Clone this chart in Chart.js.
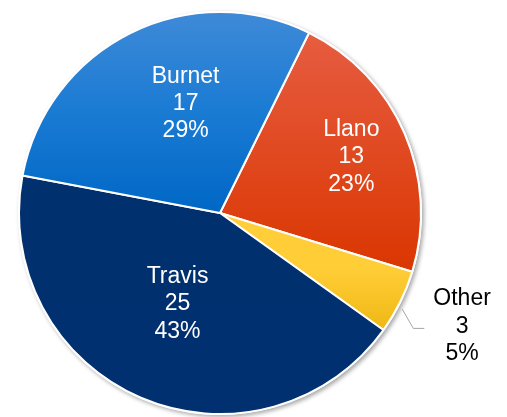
<!DOCTYPE html>
<html>
<head>
<meta charset="utf-8">
<script src="https://cdn.jsdelivr.net/npm/chart.js@4.4.1/dist/chart.umd.min.js"></script>
<style>
  html, body { margin: 0; padding: 0; background: #ffffff; }
  #wrap { width: 507px; height: 417px; position: relative; }
</style>
</head>
<body>
<div id="wrap"><canvas id="c"></canvas></div>
<script>
const categories = ['Llano', 'Other', 'Travis', 'Burnet'];
const values = [13, 3, 25, 17];
const percentLabels = ['23%', '5%', '43%', '29%'];

const gradientStops = [
  [[0, '#e8623f'], [0.12, '#e5583a'], [0.65, '#da3600'], [1, '#d43000']],
  [[0, '#ffd242'], [0.64, '#ffcd36'], [0.80, '#edb612'], [1, '#e0a800']],
  [[0, '#03306f'], [1, '#00306f']],
  [[0, '#3f8ad8'], [0.25, '#1a7bd3'], [0.5, '#0067c6'], [1, '#0058b5']]
];

function sliceColor(ctx) {
  const chart = ctx.chart;
  const area = chart.chartArea;
  if (!area) return '#888';
  const stops = gradientStops[ctx.dataIndex];
  const g = chart.ctx.createLinearGradient(0, area.top, 0, area.bottom);
  stops.forEach(s => g.addColorStop(s[0], s[1]));
  return g;
}

const shadowPlugin = {
  id: 'shadow',
  beforeDatasetsDraw(chart) {
    const arc = chart.getDatasetMeta(0).data[0];
    if (!arc) return;
    const p = arc.getProps(['x', 'y', 'outerRadius'], true);
    const c = chart.ctx;
    c.save();
    c.shadowColor = 'rgba(0,0,0,0.35)';
    c.shadowBlur = 4;
    c.shadowOffsetX = 2;
    c.shadowOffsetY = 2;
    c.fillStyle = '#ffffff';
    c.beginPath();
    c.arc(p.x, p.y, p.outerRadius + 1, 0, Math.PI * 2);
    c.fill();
    c.restore();
  }
};

const labelPlugin = {
  id: 'sliceLabels',
  afterDatasetsDraw(chart, args, opts) {
    const meta = chart.getDatasetMeta(0);
    const c = chart.ctx;
    c.save();
    c.font = opts.fontSize + 'px "Liberation Sans", Arial, sans-serif';
    c.textAlign = 'center';
    c.textBaseline = 'middle';
    meta.data.forEach((arc, i) => {
      const p = arc.getProps(['x', 'y', 'startAngle', 'endAngle', 'outerRadius'], true);
      const cfg = opts.place[i];
      const mid = (p.startAngle + p.endAngle) / 2 + cfg.shift * Math.PI / 180;
      const lx = p.x + Math.cos(mid) * p.outerRadius * cfg.r;
      const ly = p.y + Math.sin(mid) * p.outerRadius * cfg.r;
      const lines = [categories[i], String(values[i]), percentLabels[i]];
      c.fillStyle = cfg.outside ? '#000000' : '#ffffff';
      lines.forEach((t, k) => {
        c.fillText(t, lx, ly + (k - 1) * opts.lineHeight);
      });
      if (cfg.outside) {
        const a0 = (p.startAngle + p.endAngle) / 2 + cfg.leadShift * Math.PI / 180;
        const sx = p.x + Math.cos(a0) * (p.outerRadius + 5);
        const sy = p.y + Math.sin(a0) * (p.outerRadius + 5);
        const w = c.measureText(categories[i]).width;
        const left = lx - w / 2;
        c.strokeStyle = '#a6a6a6';
        c.lineWidth = 1;
        c.beginPath();
        c.moveTo(sx, sy);
        c.lineTo(left - 20, ly + 2);
        c.lineTo(left - 9, ly + 2);
        c.stroke();
      }
    });
    c.restore();
  }
};

new Chart(document.getElementById('c'), {
  type: 'pie',
  data: {
    labels: categories,
    datasets: [{
      data: values,
      backgroundColor: sliceColor,
      borderColor: '#ffffff',
      borderWidth: 2,
      hoverOffset: 0
    }]
  },
  options: {
    responsive: true,
    maintainAspectRatio: false,
    animation: false,
    rotation: 26.3,
    layout: { padding: { left: 18, top: 11, right: 85, bottom: 2 } },
    plugins: {
      legend: { display: false },
      tooltip: { enabled: false },
      sliceLabels: {
        fontSize: 23,
        lineHeight: 27.3,
        place: [
          { r: 0.71, shift: 0.3 },
          { r: 1.33, shift: -1.2, outside: true, leadShift: 1.5 },
          { r: 0.50, shift: 1.8 },
          { r: 0.57, shift: 9.0 }
        ]
      }
    }
  },
  plugins: [shadowPlugin, labelPlugin]
});
</script>
</body>
</html>
